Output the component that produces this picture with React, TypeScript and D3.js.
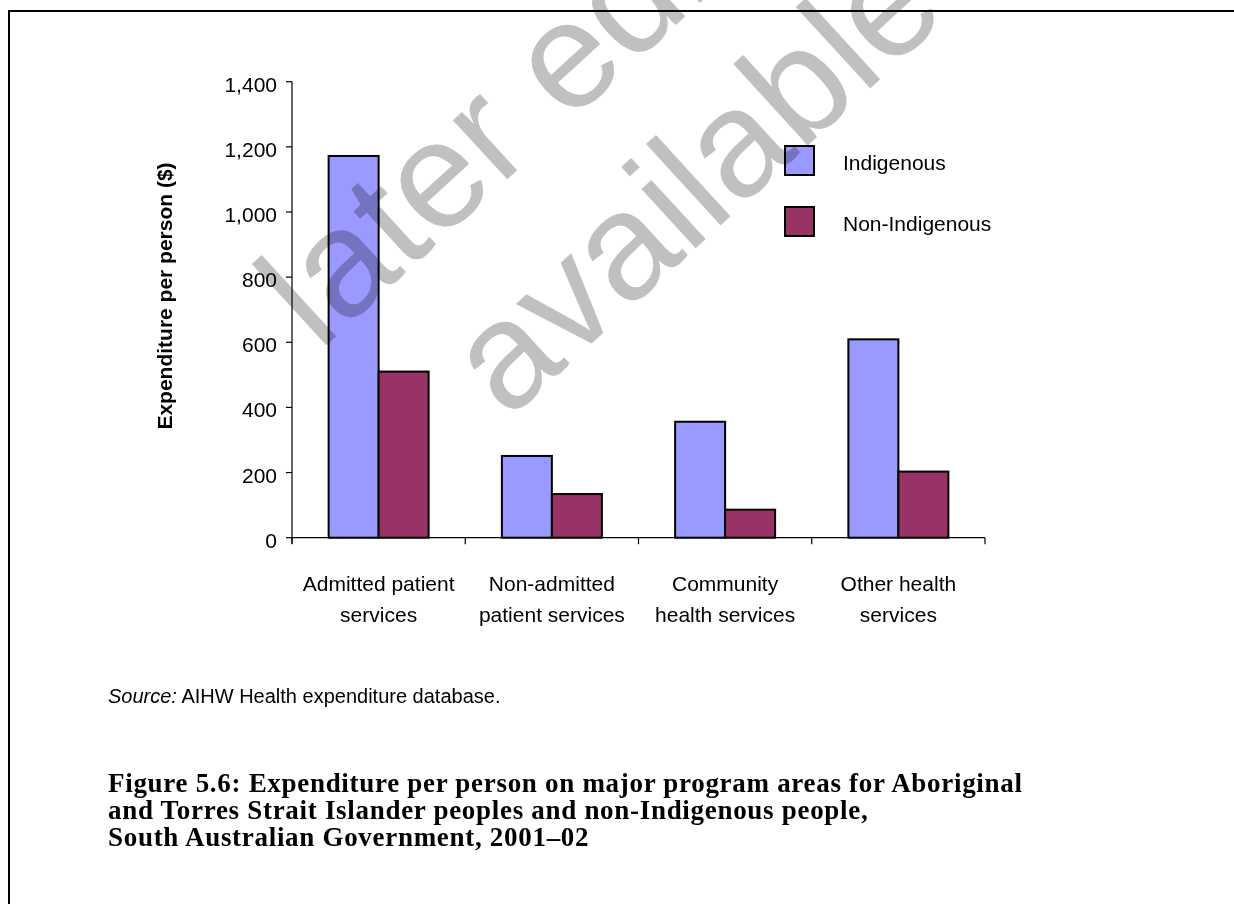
import React from 'react';
import * as d3 from 'd3';

// Expenditure per person ($), South Australian Government, 2001–02
const categories = [
  'Admitted patient services',
  'Non-admitted patient services',
  'Community health services',
  'Other health services',
];
const categoryLines = [
  ['Admitted patient', 'services'],
  ['Non-admitted', 'patient services'],
  ['Community', 'health services'],
  ['Other health', 'services'],
];
const seriesNames = ['Indigenous', 'Non-Indigenous'];
const indigenous = [1172, 251, 356, 609];
const nonIndigenous = [510, 134, 86, 203];
const yTicks = [0, 200, 400, 600, 800, 1000, 1200, 1400];
const seriesColors = ['#9999ff', '#993366'];

const titleLines = [
  'Figure 5.6: Expenditure per person on major program areas for Aboriginal',
  'and Torres Strait Islander peoples and non-Indigenous people,',
  'South Australian Government, 2001–02',
];

const W = 1234;
const H = 904;
const plot = { left: 292, right: 985, top: 81.7, bottom: 537.7 };
const sans = '"Liberation Sans", Arial, Helvetica, sans-serif';
const serif = '"Liberation Serif", "Times New Roman", serif';

export default function App() {
  const y = d3.scaleLinear().domain([0, 1400]).range([plot.bottom, plot.top]);
  const x0 = d3.scaleBand<string>().domain(categories).range([plot.left, plot.right]).padding(0);
  const x1 = d3
    .scaleBand<string>()
    .domain(seriesNames)
    .range([0, x0.bandwidth()])
    .paddingInner(0)
    .paddingOuter(0.7325);
  const fmt = d3.format(',');
  const values = [indigenous, nonIndigenous];

  const boundaries = categories.map((c) => x0(c) as number).concat([plot.right]);

  return (
    <svg
      width={W}
      height={H}
      viewBox={`0 0 ${W} ${H}`}
      style={{ position: 'absolute', left: 0, top: 0, display: 'block' }}
    >
      <rect x={0} y={0} width={W} height={H} fill="#ffffff" />

      {/* page frame */}
      <line x1={8} x2={W} y1={11} y2={11} stroke="#000" strokeWidth={2} />
      <line x1={9} x2={9} y1={10} y2={H} stroke="#000" strokeWidth={2} />

      {/* bars */}
      {seriesNames.map((s, si) => (
        <g key={s}>
          {categories.map((c, ci) => {
            const bx = (x0(c) as number) + (x1(s) as number);
            const by = y(values[si][ci]);
            return (
              <rect
                key={c}
                x={bx}
                y={by}
                width={x1.bandwidth()}
                height={plot.bottom - by}
                fill={seriesColors[si]}
                stroke="#000"
                strokeWidth={2}
              />
            );
          })}
        </g>
      ))}

      {/* y axis */}
      <line x1={plot.left} x2={plot.left} y1={plot.top} y2={plot.bottom + 6} stroke="#000" strokeWidth={1.2} />
      {yTicks.map((t) => (
        <g key={t}>
          <line x1={plot.left - 6} x2={plot.left} y1={y(t)} y2={y(t)} stroke="#000" strokeWidth={1.2} />
          <text
            x={277}
            y={y(t) + 10}
            textAnchor="end"
            fontFamily={sans}
            fontSize={21}
            fill="#000"
          >
            {fmt(t)}
          </text>
        </g>
      ))}

      {/* x axis */}
      <line x1={plot.left} x2={plot.right} y1={plot.bottom} y2={plot.bottom} stroke="#000" strokeWidth={1.2} />
      {boundaries.map((bx, i) => (
        <line key={i} x1={bx} x2={bx} y1={plot.bottom} y2={plot.bottom + 6.5} stroke="#000" strokeWidth={1.2} />
      ))}
      {categories.map((c, ci) => (
        <text
          key={c}
          x={(x0(c) as number) + x0.bandwidth() / 2}
          textAnchor="middle"
          fontFamily={sans}
          fontSize={21}
          fill="#000"
        >
          {categoryLines[ci].map((ln, li) => (
            <tspan key={li} x={(x0(c) as number) + x0.bandwidth() / 2} y={591 + li * 30.5}>
              {ln}
            </tspan>
          ))}
        </text>
      ))}

      {/* y axis title */}
      <text
        transform={`translate(172, 296) rotate(-90)`}
        textAnchor="middle"
        fontFamily={sans}
        fontWeight="bold"
        fontSize={21}
        fill="#000"
      >
        Expenditure per person ($)
      </text>

      {/* legend */}
      {seriesNames.map((s, i) => (
        <g key={s} transform={`translate(785, ${146 + i * 61})`}>
          <rect x={0} y={0} width={29} height={29} fill={seriesColors[i]} stroke="#000" strokeWidth={2} />
          <text x={58} y={23.5} fontFamily={sans} fontSize={21} fill="#000">
            {s}
          </text>
        </g>
      ))}

      {/* source note */}
      <text x={108} y={703} fontFamily={sans} fontSize={20} fill="#000">
        <tspan fontStyle="italic">Source:</tspan> AIHW Health expenditure database.
      </text>

      {/* figure caption */}
      {titleLines.map((t, i) => (
        <text
          key={i}
          x={108}
          y={792 + i * 27}
          fontFamily={serif}
          fontWeight="bold"
          fontSize={27}
          letterSpacing={0.7}
          fill="#000"
        >
          {t}
        </text>
      ))}

      {/* stamp across the chart */}
      <g transform="rotate(-42.5)" style={{ mixBlendMode: 'multiply' }}>
        <text x={390} y={475} textAnchor="middle" fontFamily={sans} fontSize={152} fill="#c0c0c0">
          later edition
        </text>
        <text x={390} y={653} textAnchor="middle" fontFamily={sans} fontSize={152} fill="#c0c0c0">
          available
        </text>
      </g>
    </svg>
  );
}
